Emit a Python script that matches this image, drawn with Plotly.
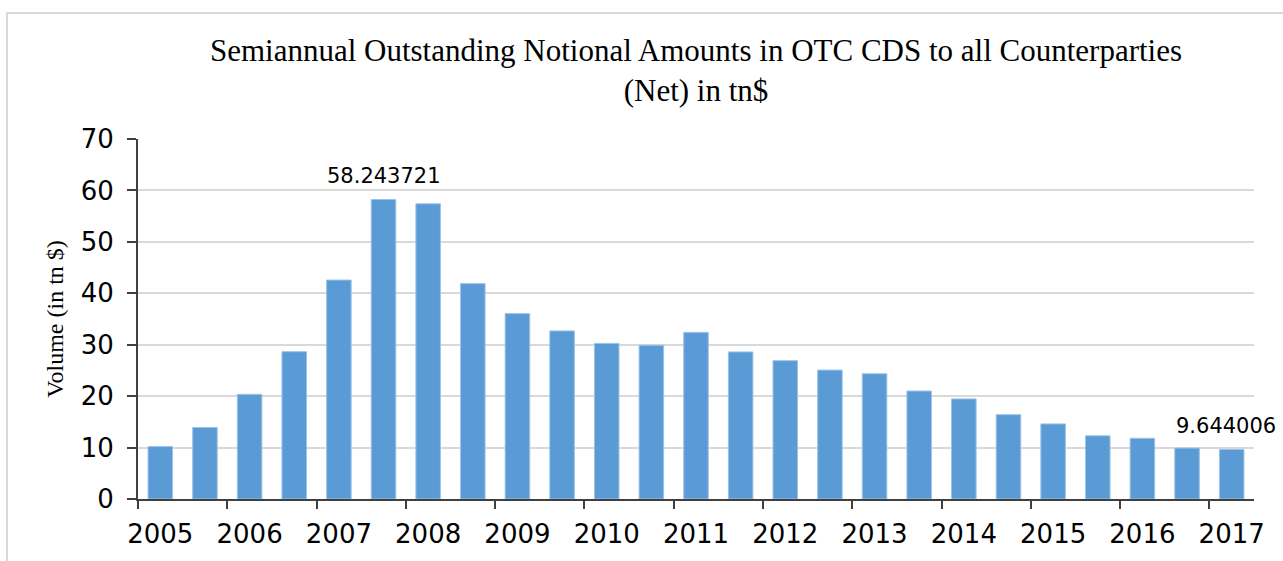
import plotly.graph_objects as go

periods = ["2005H1","2005H2","2006H1","2006H2","2007H1","2007H2","2008H1","2008H2",
           "2009H1","2009H2","2010H1","2010H2","2011H1","2011H2","2012H1","2012H2",
           "2013H1","2013H2","2014H1","2014H2","2015H1","2015H2","2016H1","2016H2","2017H1"]
values = [10.2, 13.9, 20.35, 28.65, 42.58, 58.243721, 57.4, 41.88, 36.05, 32.69,
          30.26, 29.9, 32.4, 28.6, 26.9, 25.07, 24.35, 21.0, 19.46, 16.4,
          14.6, 12.29, 11.8, 9.9, 9.644006]
year_labels = ["2005","2006","2007","2008","2009","2010","2011","2012",
               "2013","2014","2015","2016","2017"]
labelled = {5: ("58.243721", 0), 24: ("9.644006", -6)}

xs = list(range(len(values)))
L, R, T, B = 138, 29, 139, 62
W, H = 1283, 561
pw, ph = W - L - R, H - T - B

fig = go.Figure()
fig.add_trace(go.Bar(
    x=xs, y=values, width=0.55,
    marker=dict(color="#5B9BD5", line=dict(color="#9DC3E6", width=1)),
    hovertext=periods, showlegend=False,
))

for i, (t, dx) in labelled.items():
    fig.add_annotation(x=xs[i], y=values[i], text=t, showarrow=False,
                       yanchor="bottom", yshift=9, xshift=dx,
                       font=dict(family="DejaVu Sans", size=21, color="#000000"))

# dummy trace on overlay axis for boundary ticks
fig.add_trace(go.Scatter(x=[-0.5], y=[0], xaxis="x2", mode="markers",
                         marker=dict(opacity=0), showlegend=False, hoverinfo="skip"))

fig.update_layout(
    width=W, height=H,
    margin=dict(l=L, r=R, t=T, b=B, pad=0, autoexpand=False),
    paper_bgcolor="white", plot_bgcolor="white",
    title=dict(text="Semiannual Outstanding Notional Amounts in OTC CDS to all Counterparties<br>(Net) in tn$",
               x=0.5, xref="paper", xanchor="center",
               yref="container", y=(H - 61) / H, yanchor="middle",
               font=dict(family="Liberation Serif", size=31, color="#000000")),
    xaxis=dict(range=[-0.5, 24.5], tickmode="array", automargin=False,
               tickvals=xs[::2], ticktext=year_labels,
               ticks="outside", ticklen=11, tickcolor="rgba(0,0,0,0)",
               showgrid=False, zeroline=False,
               showline=True, linecolor="#404040", linewidth=2,
               tickfont=dict(family="DejaVu Sans", size=26, color="#000000")),
    xaxis2=dict(range=[-0.5, 24.5], overlaying="x", side="bottom", anchor="y",
                automargin=False,
                tickmode="array", tickvals=[x - 0.5 for x in xs[::2]],
                ticktext=[""] * 13, ticks="outside", ticklen=9, tickwidth=2,
                tickcolor="#404040", showgrid=False, zeroline=False, showline=False),
    yaxis=dict(range=[0, 70], tickmode="linear", tick0=0, dtick=10, automargin=False,
               ticks="outside", ticklen=9, tickwidth=2, tickcolor="#404040",
               ticklabelstandoff=8,
               showline=True, linecolor="#404040", linewidth=2,
               showgrid=True, gridcolor="#D9D9D9", gridwidth=2, zeroline=False,
               tickfont=dict(family="DejaVu Sans", size=26, color="#000000"),
               title=dict(text="Volume (in tn $)", standoff=10,
                          font=dict(family="Liberation Serif", size=24, color="#000000"))),
    bargap=0.45,
)

# outer container border
fig.add_shape(type="rect", xref="paper", yref="paper",
              x0=(7 - L) / pw, x1=(W + 20 - L) / pw,
              y0=-(H + 20 - (T + ph)) / ph, y1=(T + ph - 13) / ph,
              line=dict(color="#D9D9D9", width=2), fillcolor="rgba(0,0,0,0)", layer="below")

fig.write_html("out.html", config={"displayModeBar": False},
               post_script="document.body.style.margin='0';document.body.style.overflow='hidden';")
